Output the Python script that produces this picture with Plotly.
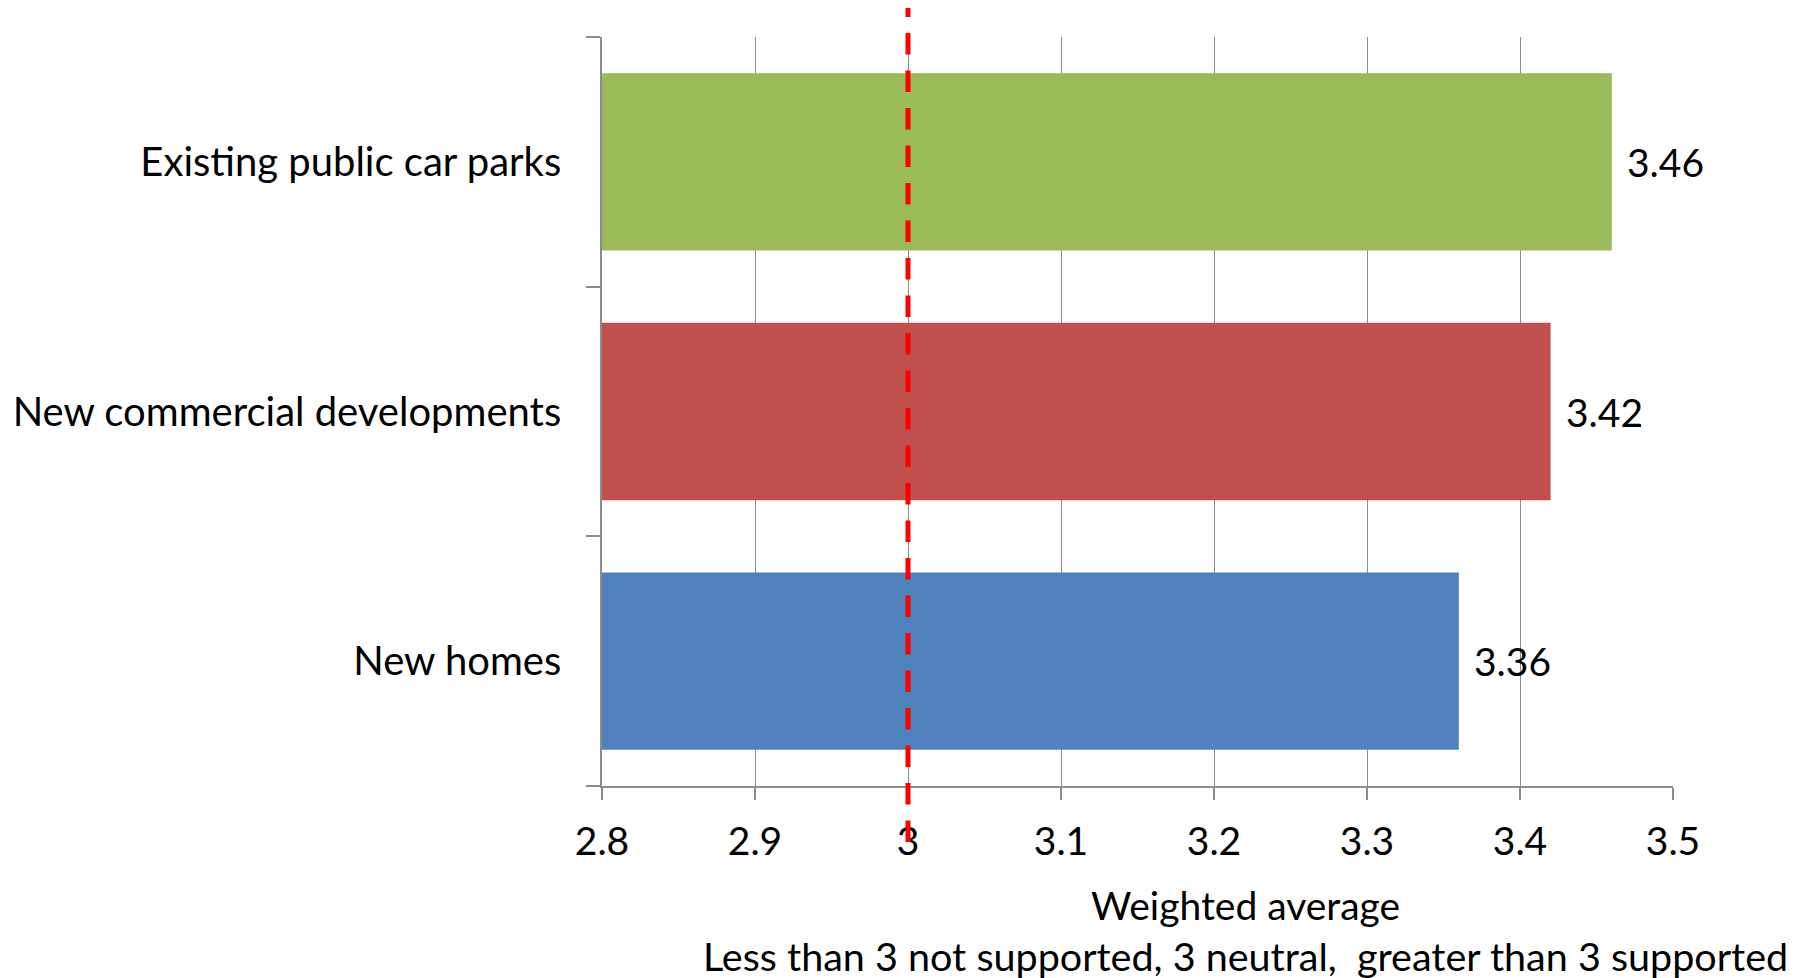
import plotly.graph_objects as go

# Support for charging points by location type (weighted average score)
categories = ["New homes", "New commercial developments", "Existing public car parks"]
values = [3.36, 3.42, 3.46]
colors = ["#4F81BD", "#C0504D", "#9BBB59"]
tick_vals = [2.8, 2.9, 3.0, 3.1, 3.2, 3.3, 3.4, 3.5]
tick_text = ["2.8", "2.9", "3", "3.1", "3.2", "3.3", "3.4", "3.5"]
neutral_score = 3.0
axis_start = 2.8

FONT = "Lato"
W, H = 1804, 978
ML, MR, MT, MB = 602, 131, 37, 192

fig = go.Figure()
fig.add_trace(go.Bar(
    y=categories,
    x=[v - axis_start for v in values],
    base=axis_start,
    orientation="h",
    marker=dict(color=colors, line=dict(width=0)),
    customdata=values,
    hovertemplate="%{y}: %{customdata}<extra></extra>",
))

# value labels just past the end of each bar
for cat, v in zip(categories, values):
    fig.add_annotation(
        x=v, y=cat, xref="x", yref="y",
        text=f"{v:.2f}", showarrow=False,
        xanchor="left", yanchor="middle", xshift=13, yshift=0,
        font=dict(family=FONT, size=39, color="#000000"),
    )

# neutral reference line at 3
fig.add_shape(
    type="line", xref="x", yref="paper",
    x0=neutral_score, x1=neutral_score, y0=-0.0748, y1=1.0387,
    line=dict(color="#FF0000", width=5, dash="21.5px,16px"),
    layer="above",
)

# axis title, two lines
title_x = (1245 - ML) / (W - ML - MR)
fig.add_annotation(
    x=title_x, y=0, xref="paper", yref="paper",
    yshift=-(905 - (H - MB)), text="Weighted average", showarrow=False,
    xanchor="center", yanchor="middle",
    font=dict(family=FONT, size=39, color="#000000"),
)
fig.add_annotation(
    x=title_x, y=0, xref="paper", yref="paper",
    yshift=-(955 - (H - MB)),
    text="Less than 3 not supported, 3 neutral,  greater than 3 supported",
    showarrow=False, xanchor="center", yanchor="middle",
    font=dict(family=FONT, size=39.5, color="#000000"),
)

fig.update_layout(
    width=W, height=H,
    margin=dict(l=ML, r=MR, t=MT, b=MB, pad=0),
    paper_bgcolor="#FFFFFF", plot_bgcolor="#FFFFFF",
    bargap=0.29,
    showlegend=False,
    font=dict(family=FONT, color="#000000"),
)
fig.update_xaxes(
    range=[2.8, 3.5],
    tickvals=tick_vals, ticktext=tick_text,
    showgrid=True, gridcolor="#8C8C8C", gridwidth=1.3,
    showline=True, linecolor="#8C8C8C", linewidth=1.5,
    ticks="outside", ticklen=12, tickcolor="#8C8C8C", tickwidth=1.5,
    tickfont=dict(family=FONT, size=39, color="#000000"),
    ticklabelstandoff=8,
    zeroline=False,
)
fig.update_yaxes(
    categoryorder="array", categoryarray=categories,
    showgrid=False,
    showline=True, linecolor="#8C8C8C", linewidth=1.5,
    ticks="outside", ticklen=14, tickcolor="#8C8C8C", tickwidth=1.5,
    tickson="boundaries",
    tickfont=dict(family=FONT, size=40, color="#000000"),
    ticklabelstandoff=31,
    zeroline=False,
)

fig.write_html("out.html")
